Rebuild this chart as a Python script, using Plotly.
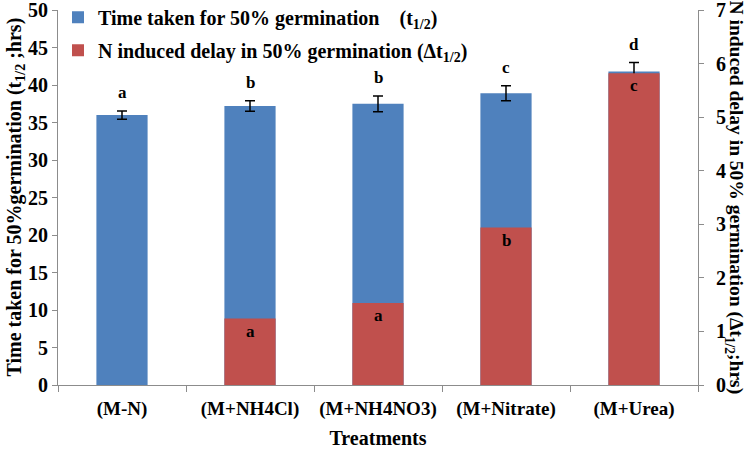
import plotly.graph_objects as go

categories = ["(M-N)", "(M+NH4Cl)", "(M+NH4NO3)", "(M+Nitrate)", "(M+Urea)"]
t_half = [36.0, 37.2, 37.5, 38.9, 41.8]
t_half_err = [0.55, 0.7, 1.05, 1.0, 1.2]
delta_t = [0.0, 1.24, 1.53, 2.94, 5.82]
t_letters = ["a", "b", "b", "c", "d"]
delta_letters = ["", "a", "a", "b", "c"]

BLUE = "#4F81BD"
RED = "#C0504D"
AXIS = "#8C8C8C"
FONT = "Liberation Serif, Times New Roman, serif"


def f(size):
    return dict(family=FONT, size=size, color="black", weight="bold")


fig = go.Figure()
fig.add_trace(go.Bar(
    x=categories, y=t_half, width=0.4, marker_color=BLUE, marker_line_width=0,
    error_y=dict(type="data", array=t_half_err, color="black", thickness=1.5, width=5),
    name="Time taken for 50% germination&nbsp;&nbsp;&nbsp;&nbsp;(t<sub>1/2</sub>)",
    legendgroup="a", yaxis="y"))
fig.add_trace(go.Bar(
    x=categories, y=delta_t, width=0.4, marker_color=RED, marker_line_width=0,
    name="N induced delay in 50% germination (\u0394t<sub>1/2</sub>)",
    legendgroup="b", yaxis="y2"))

annotations = []
for c, v, e, l in zip(categories, t_half, t_half_err, t_letters):
    annotations.append(dict(x=c, y=v + e, xref="x", yref="y", text=l, showarrow=False,
                            yanchor="bottom", yshift=7, font=f(17)))
for c, v, l in zip(categories, delta_t, delta_letters):
    if l:
        annotations.append(dict(x=c, y=v, xref="x", yref="y2", text=l, showarrow=False,
                                yanchor="top", yshift=-1, font=f(17)))
annotations.append(dict(x=0, y=0.5, xref="paper", yref="paper", xshift=-43,
                        text="Time taken for 50%germination (t<sub>1/2</sub> ;hrs)",
                        textangle=-90, showarrow=False, xanchor="center", yanchor="middle",
                        font=f(20)))
annotations.append(dict(x=1, y=0.5, xref="paper", yref="paper", xshift=37,
                        text="N induced delay in 50% germination (\u0394t<sub>1/2</sub>;hrs)",
                        textangle=90, showarrow=False, xanchor="center", yanchor="middle",
                        font=f(19.5)))

fig.update_layout(
    width=745, height=453,
    margin=dict(l=58, r=47, t=10, b=68, autoexpand=False),
    paper_bgcolor="white", plot_bgcolor="white",
    barmode="overlay",
    font=f(20),
    showlegend=True,
    legend=dict(x=0.0, y=1.033, xanchor="left", yanchor="top", bgcolor="rgba(0,0,0,0)",
                traceorder="grouped", tracegroupgap=4, itemwidth=30, font=f(20)),
    xaxis=dict(showline=True, linecolor=AXIS, linewidth=1, ticks="outside", tickson="boundaries",
               ticklen=6, tickcolor=AXIS, showgrid=False, automargin=False, tickangle=0,
               ticklabelstandoff=6,
               title=dict(text="Treatments", standoff=12, font=f(20)),
               tickfont=f(19)),
    yaxis=dict(range=[0, 50], dtick=5, showline=True, linecolor=AXIS, linewidth=1,
               ticks="outside", ticklen=5, tickcolor=AXIS, showgrid=False, zeroline=False,
               automargin=False, ticklabeloverflow="allow", tickfont=f(20)),
    yaxis2=dict(range=[0, 7], dtick=1, overlaying="y", side="right", showline=True,
                linecolor=AXIS, linewidth=1, ticks="outside", ticklen=5, tickcolor=AXIS,
                showgrid=False, zeroline=False, ticklabelstandoff=8, automargin=False,
                ticklabeloverflow="allow", tickfont=f(20)),
    annotations=annotations,
)

fig.write_html("out.html", config={"displayModeBar": False},
               post_script="document.body.style.margin='0px';")
